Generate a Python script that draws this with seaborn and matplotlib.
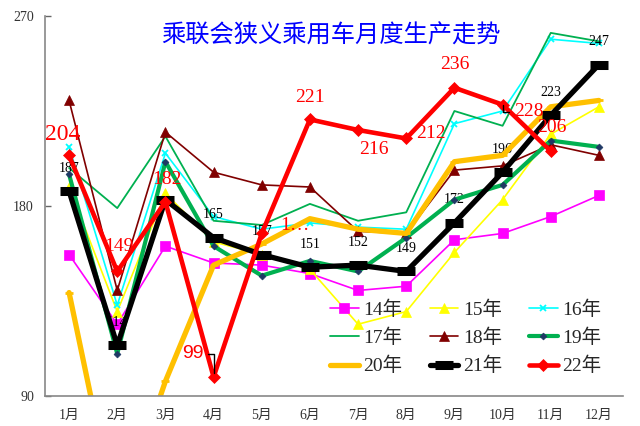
import numpy as np
import matplotlib
matplotlib.use("Agg")
import matplotlib.pyplot as plt
import seaborn as sns

months = ["1月", "2月", "3月", "4月", "5月", "6月", "7月", "8月", "9月", "10月", "11月", "12月"]
y14 = [157, 124, 161, 153, 152, 148, 140, 142, 164, 167, 175, 185]
y15 = [189, 130, 186, 163, 157, 150, 124, 130, 158, 183, 214, 227]
y16 = [208, 133, 205, 175, 169, 172, 170, 169, 219, 225, 259, 257]
y17 = [198, 179, 213, 173, 171, 181, 173, 177, 225, 218, 262, 258]
y18 = [230, 140, 215, 196, 190, 189, 168, 167, 197, 199, 209, 204]
y19 = [195, 110, 201, 161, 147, 154, 149, 165, 183, 190, 211, 208]
y20 = [139, 30, 97, 152, 162, 174, 169, 167, 201, 204, 227, 230]
y21 = [187, 114, 183, 165, 157, 151, 152, 149, 172, 196, 223, 247]
y22 = [204, 149, 182, 99, 167, 221, 216, 212, 236, 228, 206, np.nan]

names = ["14年", "15年", "16年", "17年", "18年", "19年", "20年", "21年", "22年"]
values = [y14, y15, y16, y17, y18, y19, y20, y21, y22]

styles = [
    dict(color="#FF00FF", linewidth=1.2, marker="s", markersize=7,
         markeredgewidth=0.5, markeredgecolor="#FF00FF", zorder=1.5),
    dict(color="#FFFF00", linewidth=1.2, marker="^", markersize=7,
         markeredgewidth=0.5, markeredgecolor="#FFFF00", zorder=1.5),
    dict(color="#00FFFF", linewidth=1.2, marker="x", markersize=4.5,
         markeredgewidth=1.3, markeredgecolor="#00FFFF", zorder=1.5),
    dict(color="#00B050", linewidth=1.3, marker=None, zorder=1.5),
    dict(color="#800000", linewidth=1.2, marker="^", markersize=6.5,
         markeredgewidth=0.5, markeredgecolor="#800000", zorder=1.5),
    dict(color="#00B050", linewidth=3.0, marker="D", markersize=3.5,
         markerfacecolor="#1F3864", markeredgecolor="#1F3864", markeredgewidth=0.5),
    dict(color="#FFC000", linewidth=3.8, marker="_", markersize=6,
         markeredgewidth=2, markeredgecolor="#FFC000"),
    dict(color="black", linewidth=3.8, marker="_", markersize=13,
         markeredgewidth=6.5, markeredgecolor="black"),
    dict(color="#FF0000", linewidth=3.3, marker="D", markersize=6.5,
         markeredgewidth=0.5, markeredgecolor="#FF0000"),
]

sns.set_theme(style="white")
serif = ["Liberation Serif", "Noto Sans CJK SC"]
plt.rcParams["font.family"] = serif

fig = plt.figure(figsize=(6.4, 4.26), dpi=100)
ax = fig.add_axes([45 / 640, 30 / 426, 578 / 640, 380 / 426])

x = np.arange(12)
for name, vals, st in zip(names, values, styles):
    sns.lineplot(x=x, y=vals, ax=ax, label=name, **st)

ax.set_xlim(-0.5, 11.5)
ax.set_ylim(90, 270)
ax.set_yticks([90, 180, 270])
ax.set_xticks(x)
ax.set_xticklabels(months)
ax.set_xticks(np.arange(-0.5, 12, 1), minor=True)
ax.tick_params(axis="x", which="major", length=0, pad=9, labelsize=10, labelcolor="#333333")
ax.tick_params(axis="x", which="minor", direction="in", length=4, width=1, color="#666666")
ax.tick_params(axis="y", direction="in", length=4, width=1, color="#666666",
               pad=8, labelsize=10, labelcolor="#333333", left=True)
for s in ["top", "right"]:
    ax.spines[s].set_visible(False)
for s in ["left", "bottom"]:
    ax.spines[s].set_color("#888888")
    ax.spines[s].set_linewidth(1.2)
ax.set_xlabel("")
ax.set_ylabel("")

# 21年 labels (thin lines pass behind, thick lines in front)
for i, v in enumerate(y21):
    if i == 2:
        continue
    ax.annotate(f"{v}", (i, v), xytext=(0, 23), textcoords="offset pixels",
                ha="center", va="center", fontsize=10, color="black", zorder=1.9)

# 22年 labels
red_off = [(-6, 21), (2, 25), (2, 22), (-21, 23), (18, 8), (0, 22),
           (16, -20), (25, 5), (0, 23), (26, -7), (1, 24)]
for i, v in enumerate(y22):
    if np.isnan(v):
        continue
    dx, dy = red_off[i]
    if i == 3:
        ax.annotate(f"{v:.0f}", (i, v), xytext=(dx, dy), textcoords="offset pixels",
                    ha="center", va="center", fontsize=14, color="#FF0000",
                    family=["Liberation Sans", "DejaVu Sans"],
                    arrowprops=dict(arrowstyle="-", color="black", lw=1,
                                    connectionstyle="angle,angleA=0,angleB=90,rad=0",
                                    shrinkA=1, shrinkB=3))
    elif i == 4:
        ax.annotate("1…", (i, v), xytext=(dx, dy), textcoords="offset pixels",
                    ha="left", va="center", fontsize=14, color="#FF0000")
    elif i == 9:
        ax.annotate(f"{v:.0f}", (i, v), xytext=(dx, dy), textcoords="offset pixels",
                    ha="center", va="center", fontsize=14, color="#FF0000",
                    arrowprops=dict(arrowstyle="-", color="black", lw=1,
                                    connectionstyle="angle,angleA=0,angleB=90,rad=0",
                                    shrinkA=1, shrinkB=0))
    else:
        ax.annotate(f"{v:.0f}", (i, v), xytext=(dx, dy), textcoords="offset pixels",
                    ha="center", va="center", fontsize=17 if i == 0 else 14,
                    color="#FF0000", zorder=5)

fig.text(331 / 640, 1 - 36 / 426, "乘联会狭义乘用车月度生产走势", ha="center", va="center",
         fontsize=17.5, color="#0000FF", family=["Noto Sans CJK SC", "DejaVu Sans"])

# legend reads row by row in the reference; matplotlib fills columns first
handles, labels = ax.get_legend_handles_labels()
order = [0, 3, 6, 1, 4, 7, 2, 5, 8]
ax.legend([handles[k] for k in order], [labels[k] for k in order],
          loc="center", bbox_to_anchor=(466 / 640, 1 - 338 / 426),
          bbox_transform=fig.transFigure, ncol=3, frameon=False, fontsize=14,
          handlelength=1.45, handletextpad=0.25, columnspacing=1.4,
          labelspacing=0.5, borderpad=0)

fig.savefig("out.png", dpi=100)
